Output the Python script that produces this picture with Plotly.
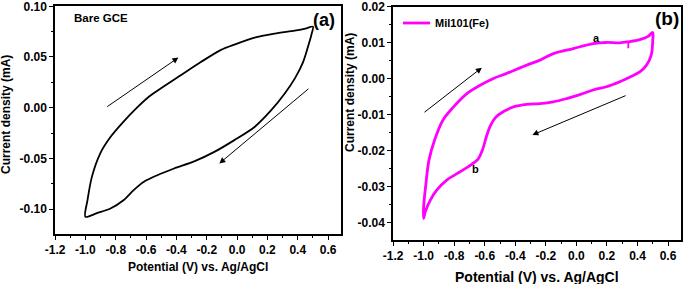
import plotly.graph_objects as go

# ---------------- data ----------------
# Panel (a): Bare GCE, forward (anodic) and reverse scans
va_fwd = [-1.0, -0.986, -0.957, -0.902, -0.835, -0.747, -0.66, -0.58, -0.504, -0.371, -0.239, -0.106, -0.018, 0.115, 0.247, 0.38, 0.45, 0.5]
ia_fwd = [-0.1076, -0.091, -0.068, -0.045, -0.029, -0.0135, 0.0, 0.011, 0.0189, 0.032, 0.045, 0.057, 0.0622, 0.069, 0.073, 0.076, 0.078, 0.080]
va_rev = [0.5, 0.49, 0.473, 0.435, 0.38, 0.314, 0.225, 0.115, -0.018, -0.15, -0.283, -0.416, -0.526, -0.614, -0.68, -0.747, -0.835, -0.924, -1.0]
ia_rev = [0.080, 0.072, 0.063, 0.045, 0.0287, 0.014, -0.0025, -0.019, -0.032, -0.0436, -0.053, -0.060, -0.0666, -0.073, -0.081, -0.091, -0.0994, -0.104, -0.1076]

# Panel (b): Mil101(Fe)
vb_fwd = [-1.0, -1.0, -0.987, -0.965, -0.928, -0.874, -0.804, -0.717, -0.63, -0.543, -0.456, -0.325, -0.238, -0.151, -0.02, 0.11, 0.197, 0.284, 0.34, 0.415, 0.47, 0.5]
ib_fwd = [-0.0388, -0.0356, -0.030, -0.0226, -0.017, -0.0115, -0.0078, -0.0041, -0.0018, 0.0001, 0.0015, 0.0038, 0.0052, 0.007, 0.0084, 0.0098, 0.0101, 0.0100, 0.0103, 0.0109, 0.0118, 0.0129]
vb_rev = [0.5, 0.5, 0.49, 0.459, 0.415, 0.35, 0.284, 0.197, 0.11, 0.023, -0.064, -0.151, -0.238, -0.325, -0.412, -0.477, -0.53, -0.565, -0.59, -0.615, -0.645, -0.69, -0.76, -0.847, -0.913, -0.956, -0.989, -1.0]
ib_rev = [0.0129, 0.0107, 0.0066, 0.0038, 0.0019, 0.0005, -0.0008, -0.0022, -0.0031, -0.0044, -0.0055, -0.0064, -0.0069, -0.0071, -0.0078, -0.0091, -0.0108, -0.0132, -0.0162, -0.0198, -0.0224, -0.0239, -0.0258, -0.0281, -0.0309, -0.0337, -0.0369, -0.0388]
vb_glitch = [0.34, 0.34]
ib_glitch = [0.0104, 0.0085]

# tick labels
x_ticks = [-1.2, -1.0, -0.8, -0.6, -0.4, -0.2, 0.0, 0.2, 0.4, 0.6]
x_labels = ["-1.2", "-1.0", "-0.8", "-0.6", "-0.4", "-0.2", "0.0", "0.2", "0.4", "0.6"]
ya_ticks = [-0.10, -0.05, 0.0, 0.05, 0.10]
ya_labels = ["-0.10", "-0.05", "0.00", "0.05", "0.10"]
yb_ticks = [-0.04, -0.03, -0.02, -0.01, 0.0, 0.01, 0.02]
yb_labels = ["-0.04", "-0.03", "-0.02", "-0.01", "0.00", "0.01", "0.02"]

W, H = 685, 284
FONT = "Liberation Sans, Arial, sans-serif"

def px_x(p):
    return p / W

def px_y(p):
    return 1 - p / H

fig = go.Figure()

fig.add_trace(go.Scatter(x=va_fwd + va_rev[1:], y=ia_fwd + ia_rev[1:], mode="lines",
                         line=dict(color="black", width=1.8, shape="spline", smoothing=0.8),
                         xaxis="x", yaxis="y", showlegend=False, cliponaxis=False))
fig.add_trace(go.Scatter(x=vb_fwd + vb_rev[1:], y=ib_fwd + ib_rev[1:], mode="lines",
                         line=dict(color="#FF00FF", width=2.8, shape="spline", smoothing=1.0),
                         xaxis="x2", yaxis="y2", showlegend=False))
fig.add_trace(go.Scatter(x=vb_glitch, y=ib_glitch, mode="lines",
                         line=dict(color="#FF00FF", width=1.8),
                         xaxis="x2", yaxis="y2", showlegend=False))

axis_common = dict(showline=True, mirror=True, linecolor="black", linewidth=1.5,
                   ticks="outside", ticklen=4, tickwidth=1.3, tickcolor="black",
                   showgrid=False, zeroline=False, automargin=False,
                   ticklabeloverflow="allow",
                   tickfont=dict(family=FONT, size=12, color="black", weight="bold"))

fig.update_layout(
    template="none",
    width=W, height=H, margin=dict(l=0, r=0, t=0, b=0, pad=0),
    paper_bgcolor="white", plot_bgcolor="white",
    xaxis=dict(domain=[px_x(55), px_x(341)], range=[-1.2005, 0.685], anchor="y",
               tickmode="array", tickvals=x_ticks, ticktext=x_labels,
               minor=dict(dtick=0.1, tick0=0, ticklen=2.5, tickwidth=1.2, tickcolor="black", ticks="outside"),
               **axis_common),
    yaxis=dict(domain=[px_y(234), px_y(6)], range=[-0.1246, 0.1003], anchor="x",
               tickmode="array", tickvals=ya_ticks, ticktext=ya_labels,
               minor=dict(dtick=0.025, tick0=0, ticklen=2.5, tickwidth=1.2, tickcolor="black", ticks="outside"),
               **axis_common),
    xaxis2=dict(domain=[px_x(393), px_x(681)], range=[-1.2005, 0.685], anchor="y2",
                tickmode="array", tickvals=x_ticks, ticktext=x_labels,
                minor=dict(dtick=0.1, tick0=0, ticklen=2.5, tickwidth=1.2, tickcolor="black", ticks="outside"),
                **axis_common),
    yaxis2=dict(domain=[px_y(240), px_y(6.5)], range=[-0.0448, 0.0201], anchor="x2",
                tickmode="array", tickvals=yb_ticks, ticktext=yb_labels,
                minor=dict(dtick=0.005, tick0=0, ticklen=2.5, tickwidth=1.2, tickcolor="black", ticks="outside"),
                **axis_common),
)

ann = []
def text_ann(x, y, text, size, angle=0):
    ann.append(dict(x=px_x(x), y=px_y(y), xref="paper", yref="paper", text=text, showarrow=False,
                    textangle=angle, xanchor="center", yanchor="middle",
                    font=dict(family=FONT, size=size, color="black", weight="bold")))

text_ann(198, 267, "Potential (V) vs. Ag/AgCl", 12)
text_ann(6, 115, "Current density (mA)", 12, -90)
text_ann(101, 18, "Bare GCE", 11.5)
text_ann(324, 20, "(a)", 18)

text_ann(537, 277, "Potential (V) vs. Ag/AgCl", 14)
text_ann(350, 93, "Current density (mA)", 12, -90)
text_ann(667, 18, "(b)", 19)
ann.append(dict(x=px_x(433), y=px_y(23), xref="paper", yref="paper", text="Mil101(Fe)", showarrow=False,
                xanchor="left", yanchor="middle",
                font=dict(family=FONT, size=11, color="black", weight="bold")))

# point labels
ann.append(dict(x=0.135, y=0.0113, xref="x2", yref="y2", text="a", showarrow=False,
                font=dict(family=FONT, size=11, color="black", weight="bold")))
ann.append(dict(x=-0.659, y=-0.0252, xref="x2", yref="y2", text="b", showarrow=False,
                font=dict(family=FONT, size=11, color="black", weight="bold")))

# scan-direction arrows
def arrow(xr, yr, x0, y0, x1, y1):
    ann.append(dict(x=x1, y=y1, ax=x0, ay=y0, xref=xr, yref=yr, axref=xr, ayref=yr,
                    text="", showarrow=True, arrowhead=2, arrowsize=1.2, arrowwidth=1,
                    arrowcolor="black"))

arrow("x", "y", -0.866, 0.0, -0.387, 0.0494)
arrow("x", "y", 0.48, 0.0198, -0.117, -0.055)
arrow("x2", "y2", -1.004, -0.0096, -0.619, 0.0031)
arrow("x2", "y2", 0.332, -0.0045, -0.288, -0.0156)

fig.update_layout(annotations=ann)

# legend line sample
fig.add_shape(type="line", xref="paper", yref="paper", x0=px_x(403), x1=px_x(430),
              y0=px_y(23), y1=px_y(23), line=dict(color="#FF00FF", width=2.8))

fig.write_html("out.html", config={"displayModeBar": False},
               post_script="document.body.style.margin='0';document.body.style.overflow='hidden';")
